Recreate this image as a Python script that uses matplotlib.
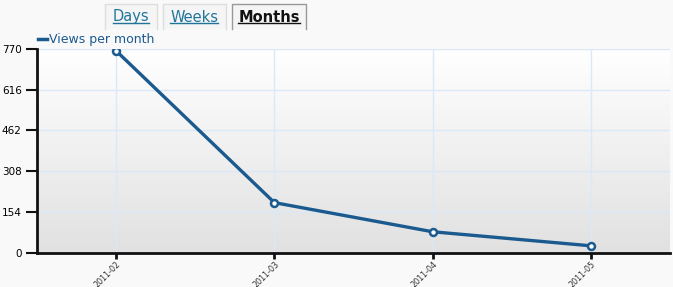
import numpy as np
import matplotlib
matplotlib.use("Agg")
import matplotlib.pyplot as plt
from matplotlib.lines import Line2D

months = ["2011-02", "2011-03", "2011-04", "2011-05"]
views = [762, 189, 79, 26]
yticks = [0, 154, 308, 462, 616, 770]
tabs = ["Days", "Weeks", "Months"]

W, H = 673, 287
fig = plt.figure(figsize=(W / 100, H / 100), dpi=100)
fig.patch.set_facecolor("#f9f9f9")

def fx(px):
    return px / W

def fy(py):
    return 1 - py / H

ax = fig.add_axes([fx(37), fy(252.7), fx(670 - 37), (252.7 - 48.7) / H])
ax.set_facecolor("none")

x = np.arange(len(months))
xlim = (-0.5, len(months) - 0.5)

# gradient background
grad = np.linspace(1.0, 0.0, 256).reshape(-1, 1)
ax.imshow(grad, cmap=matplotlib.colors.LinearSegmentedColormap.from_list("g", ["#e1e1e1", "#ffffff"]),
          aspect="auto", extent=[xlim[0], xlim[1], 0, 770], zorder=0, origin="upper")

ax.plot(x, views, color="#1b5a8f", lw=2.4, marker="o", ms=5, mfc="white",
        mec="#1b5a8f", mew=1.8, zorder=3, solid_joinstyle="round")

ax.set_xlim(*xlim)
ax.set_ylim(0, 770)
ax.set_yticks(yticks)
ax.set_xticks(x)
ax.set_xticklabels(months, rotation=45, ha="right", rotation_mode="anchor",
                   fontsize=5.8, color="#333333")
ax.tick_params(axis="y", labelsize=7.5, length=8, width=1.5, color="#111111", pad=3)
ax.tick_params(axis="x", length=4, width=2, color="#111111", pad=1)
ax.grid(True, color="#dbe8f8", lw=1, zorder=1)
for s in ["top", "right"]:
    ax.spines[s].set_visible(False)
for s in ["left", "bottom"]:
    ax.spines[s].set_linewidth(2)
    ax.spines[s].set_color("#111111")

# legend
fig.add_artist(Line2D([fx(38), fx(47)], [fy(39), fy(39)], color="#1b5a8f", lw=2.5))
fig.text(fx(49), fy(39), "Views per month", fontsize=9, color="#1b5a8f", va="center", ha="left")

# tabs
tab_box = [(105, 157), (163, 226), (232, 306)]
renderer = fig.canvas.get_renderer()
for i, (name, (l, r)) in enumerate(zip(tabs, tab_box)):
    active = name == "Months"
    ec = "#999999" if active else "#dddddd"
    fig.add_artist(Line2D([fx(l), fx(l), fx(r), fx(r)], [fy(29), fy(3.5), fy(3.5), fy(29)],
                          color=ec, lw=1))
    fig.patches.append(matplotlib.patches.Rectangle((fx(l + 0.5), fy(29)), fx(r - l - 1), (29 - 4) / H,
                       transform=fig.transFigure, facecolor="#f5f5f5", edgecolor="none", zorder=0))
    col = "#111111" if active else "#21759b"
    t = fig.text(fx((l + r) / 2), fy(17), name, fontsize=10.5, ha="center", va="center",
                 color=col, fontweight="bold" if active else "normal")
    bb = t.get_window_extent(renderer)
    fig.add_artist(Line2D([bb.x0 / W, bb.x1 / W], [fy(23), fy(23)], color=col, lw=1))

fig.savefig("out.png", dpi=100, facecolor=fig.get_facecolor())
